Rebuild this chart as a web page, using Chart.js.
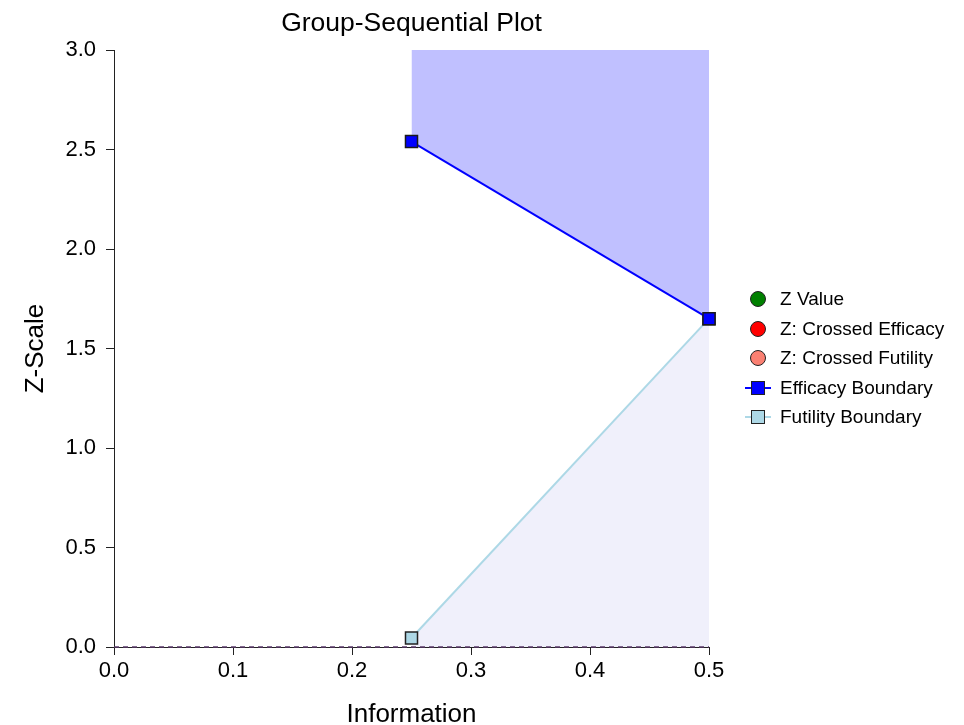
<!DOCTYPE html>
<html>
<head>
<meta charset="utf-8">
<script src="https://cdn.jsdelivr.net/npm/chart.js@4"></script>
<style>
  html, body { margin:0; padding:0; background:#fff; }
  #wrap { position:relative; width:964px; height:725px; font-family:"Liberation Sans", Arial, sans-serif; }
  #title { position:absolute; left:114px; width:595px; top:7px; text-align:center; font-size:26.5px; color:#000; }
  #legend { position:absolute; left:744px; top:284px; }
  .row { position:relative; height:29.6px; font-size:19px; color:#000; }
  .row span.txt { position:absolute; left:36px; top:4px; white-space:nowrap; }
  .mk { position:absolute; }
  .circ { left:6px; top:7px; width:16px; height:16px; border-radius:50%; border:1px solid #222; box-sizing:border-box; }
  .ln { left:1px; top:14px; width:26px; height:2px; }
  .sq { left:7px; top:8px; width:14px; height:14px; border:1.5px solid #222; box-sizing:border-box; }
</style>
</head>
<body>
<div id="wrap">
  <canvas id="c" width="964" height="725"></canvas>
  <div id="title">Group-Sequential Plot</div>
  <div id="legend"></div>
</div>
<script>
// ---- data ----
const infoLevels = [0.25, 0.5];
const efficacyZ = [2.54, 1.65];
const futilityZ = [0.045, 1.65];
const zeroLineX = [0, 0.5];
const zeroLineY = [0, 0];
const xTicks = [0, 0.1, 0.2, 0.3, 0.4, 0.5];
const yTicks = [0, 0.5, 1.0, 1.5, 2.0, 2.5, 3.0];
const legendLabels = ["Z Value", "Z: Crossed Efficacy", "Z: Crossed Futility", "Efficacy Boundary", "Futility Boundary"];
const legendColors = ["#008000", "#ff0000", "#fa8072", "#0000ff", "#add8e6"];

const toPts = (xs, ys) => xs.map((x, i) => ({x: x, y: ys[i]}));

// legend
const lg = document.getElementById('legend');
legendLabels.forEach((lab, i) => {
  const row = document.createElement('div');
  row.className = 'row';
  if (i < 3) {
    row.innerHTML = '<div class="mk circ" style="background:' + legendColors[i] + '"></div>';
  } else {
    row.innerHTML = '<div class="mk ln" style="background:' + legendColors[i] + '"></div>' +
                    '<div class="mk sq" style="background:' + legendColors[i] + '"></div>';
  }
  const t = document.createElement('span');
  t.className = 'txt';
  t.textContent = lab;
  row.appendChild(t);
  lg.appendChild(row);
});

const FONT = '"Liberation Sans", Arial, sans-serif';

new Chart(document.getElementById('c'), {
  type: 'scatter',
  data: {
    datasets: [
      {
        label: 'Zero',
        data: toPts(zeroLineX, zeroLineY),
        showLine: true,
        borderColor: '#5a3a6a',
        borderWidth: 1.5,
        borderDash: [5, 4],
        pointRadius: 0,
        fill: false,
        clip: false
      },
      {
        label: 'Efficacy Boundary',
        data: toPts(infoLevels, efficacyZ),
        showLine: true,
        borderColor: '#0000ff',
        borderWidth: 2,
        backgroundColor: 'rgba(192,192,255,1)',
        pointStyle: 'rect',
        pointRadius: 8.5,
        pointBackgroundColor: '#0000ff',
        pointBorderColor: '#1a1a1a',
        pointBorderWidth: 1.5,
        fill: 'end',
        clip: false
      },
      {
        label: 'Futility Boundary',
        data: toPts(infoLevels, futilityZ),
        showLine: true,
        borderColor: '#add8e6',
        borderWidth: 2,
        backgroundColor: 'rgba(240,240,251,1)',
        pointStyle: 'rect',
        pointRadius: 8.5,
        pointBackgroundColor: '#add8e6',
        pointBorderColor: '#222',
        pointBorderWidth: 1.5,
        fill: 'origin',
        clip: false
      }
    ]
  },
  options: {
    responsive: false,
    animation: false,
    layout: { padding: { left: 16, right: 255, top: 50, bottom: 0 } },
    plugins: {
      legend: { display: false },
      title: { display: false },
      tooltip: { enabled: false }
    },
    scales: {
      x: {
        type: 'linear',
        min: 0, max: 0.5,
        afterBuildTicks: s => { s.ticks = xTicks.map(v => ({value: v})); },
        afterFit: s => { s.height = 78; },
        grid: { display: true, drawOnChartArea: false, drawTicks: true, tickLength: 8, color: '#222', lineWidth: 1 },
        border: { display: true, color: '#222', width: 1 },
        ticks: { color: '#000', font: { family: FONT, size: 22 }, padding: 3, maxRotation: 0,
                 callback: v => Number(v).toFixed(1) },
        title: { display: true, text: 'Information', color: '#000', font: { family: FONT, size: 26 }, padding: { top: 4, bottom: -5 } }
      },
      y: {
        type: 'linear',
        min: 0, max: 3,
        afterBuildTicks: s => { s.ticks = yTicks.map(v => ({value: v})); },
        afterFit: s => { s.width = 98; },
        grid: { display: true, drawOnChartArea: false, drawTicks: true, tickLength: 8, color: '#222', lineWidth: 1 },
        border: { display: true, color: '#222', width: 1 },
        ticks: { color: '#000', font: { family: FONT, size: 22 }, padding: 10,
                 callback: v => Number(v).toFixed(1) },
        title: { display: true, text: 'Z-Scale', color: '#000', font: { family: FONT, size: 26 }, padding: { top: 4, bottom: 4 } }
      }
    }
  }
});
</script>
</body>
</html>
